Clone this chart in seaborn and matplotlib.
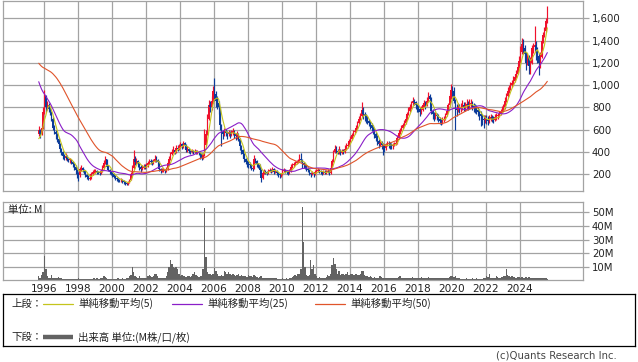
import numpy as np
import pandas as pd
import matplotlib
matplotlib.use("Agg")
import matplotlib.pyplot as plt
import seaborn as sns
from matplotlib.ticker import FuncFormatter

sns.set_theme(style="white")
plt.rcParams['font.family'] = ['Noto Sans CJK JP', 'DejaVu Sans']

# ---------------- data (monthly, Sep 1995 - Aug 2025) ----------------
START_YEAR, START_MONTH = 1995, 9

# closes before the visible range (Aug 1991 - Aug 1995), only feed the moving averages
PRE_CLOSE = [1300, 1280, 1250, 1220, 1200,
             1180, 1150, 1120, 1150, 1200, 1250, 1300, 1350, 1400, 1420, 1450, 1500,
             1540, 1560, 1580, 1600, 1560, 1520, 1500, 1480, 1450, 1400, 1380, 1350,
             1340, 1320, 1300, 1280, 1300, 1320, 1280, 1250, 1200, 1150, 1100, 1000,
             900, 750, 600, 500, 480, 460, 500, 560]

CLOSE = [
    600, 560, 620, 760,
    900, 800, 820, 790, 760, 700, 620, 580, 560, 520, 470, 430,
    400, 360, 350, 360, 340, 330, 330, 310, 290, 270, 240, 200,
    190, 250, 260, 240, 230, 190, 180, 160, 170, 200, 220, 230,
    230, 220, 215, 210, 230, 260, 300, 340, 270, 240, 220, 210,
    200, 180, 170, 160, 150, 145, 150, 140, 130, 120, 110, 125,
    150, 200, 260, 340, 310, 320, 290, 270, 250, 260, 270, 265,
    280, 300, 320, 310, 300, 320, 340, 330, 310, 250, 230, 240,
    240, 230, 250, 300, 340, 380, 400, 420, 400, 440, 430, 450,
    470, 450, 480, 460, 420, 430, 410, 400, 410, 400, 410, 400,
    400, 390, 380, 350, 370, 460, 560, 700, 820, 800, 860, 950,
    920, 860, 840, 800, 640, 580, 560, 590, 570, 560, 580, 560,
    570, 590, 560, 540, 560, 520, 450, 420, 380, 340, 310, 300,
    290, 280, 260, 250, 340, 320, 290, 280, 240, 170, 210, 230,
    220, 210, 230, 240, 230, 250, 220, 230, 210, 200, 190, 195,
    230, 240, 230, 220, 210, 230, 270, 280, 290, 300, 310, 320,
    340, 330, 300, 280, 270, 250, 240, 210, 200, 210, 200, 220,
    230, 240, 230, 220, 210, 220, 215, 220, 230, 210, 260, 320,
    400, 430, 410, 400, 420, 390, 410, 400, 430, 450, 460, 500,
    520, 550, 580, 590, 620, 660, 700, 720, 780, 740, 720, 700,
    680, 660, 640, 620, 600, 560, 530, 500, 470, 480, 460, 450,
    440, 460, 480, 470, 460, 450, 460, 470, 480, 530, 570, 600,
    620, 640, 660, 700, 740, 770, 800, 840, 860, 850, 820, 800,
    790, 760, 780, 820, 840, 820, 860, 900, 880, 770, 740, 720,
    730, 720, 700, 680, 670, 690, 700, 730, 770, 820, 900, 960,
    950, 860, 790, 780, 800, 790, 800, 820, 800, 810, 830, 820,
    830, 840, 810, 800, 790, 780, 760, 740, 720, 700, 690, 700,
    690, 680, 700, 710, 700, 690, 710, 720, 720, 740, 760, 780,
    800, 860, 900, 950, 970, 1000, 1020, 1040, 1070, 1100, 1160, 1220,
    1300, 1370, 1330, 1280, 1200, 1250, 1170, 1200, 1330, 1340, 1360, 1300,
    1260, 1200, 1250, 1400, 1450, 1490, 1580, 1650,
]

HIGH = [
    630, 610, 650, 800,
    960, 910, 860, 840, 800, 770, 710, 640, 600, 570, 530, 480,
    440, 410, 380, 390, 370, 350, 350, 340, 320, 300, 280, 250,
    220, 270, 280, 270, 250, 240, 200, 190, 190, 220, 240, 250,
    250, 240, 230, 230, 250, 280, 330, 360, 340, 280, 250, 230,
    220, 210, 190, 180, 170, 160, 165, 160, 150, 140, 130, 140,
    160, 220, 280, 420, 360, 350, 330, 300, 280, 280, 290, 290,
    300, 320, 340, 340, 330, 340, 375, 360, 340, 320, 260, 260,
    260, 250, 270, 320, 360, 400, 430, 450, 430, 460, 460, 470,
    490, 480, 495, 490, 470, 450, 440, 420, 430, 420, 430, 420,
    420, 410, 400, 390, 390, 610, 600, 740, 870, 860, 900, 990,
    1060, 950, 900, 860, 800, 650, 600, 620, 610, 590, 600, 590,
    600, 620, 600, 570, 590, 570, 530, 460, 430, 390, 350, 330,
    320, 310, 290, 280, 370, 350, 330, 300, 290, 250, 230, 250,
    240, 230, 250, 260, 250, 270, 260, 250, 240, 220, 210, 210,
    250, 260, 250, 240, 230, 250, 290, 300, 310, 320, 330, 340,
    380, 390, 340, 310, 290, 280, 260, 250, 220, 230, 220, 240,
    250, 260, 250, 240, 230, 240, 235, 240, 250, 240, 280, 340,
    420, 460, 450, 430, 450, 430, 430, 430, 460, 480, 490, 520,
    540, 570, 600, 610, 640, 680, 720, 750, 850, 800, 760, 740,
    720, 700, 680, 660, 640, 620, 580, 550, 520, 500, 500, 480,
    470, 480, 500, 500, 490, 480, 480, 490, 500, 550, 590, 620,
    640, 660, 690, 720, 760, 800, 830, 860, 890, 880, 860, 830,
    820, 800, 810, 840, 870, 860, 890, 940, 920, 890, 790, 760,
    760, 750, 740, 710, 700, 710, 720, 750, 790, 840, 920, 1010,
    990, 980, 880, 830, 840, 830, 840, 870, 850, 850, 880, 860,
    880, 880, 860, 840, 830, 820, 800, 790, 770, 740, 730, 730,
    730, 720, 730, 740, 730, 720, 740, 750, 750, 770, 790, 810,
    830, 890, 930, 980, 1000, 1030, 1050, 1080, 1100, 1140, 1200, 1260,
    1350, 1420, 1410, 1360, 1300, 1290, 1270, 1250, 1360, 1380, 1530, 1400,
    1340, 1290, 1300, 1420, 1480, 1520, 1600, 1710,
]

LOW = [
    540, 530, 550, 610,
    740, 760, 780, 760, 730, 680, 600, 560, 520, 490, 450, 400,
    370, 340, 330, 330, 320, 310, 300, 290, 270, 240, 200, 170,
    140, 180, 230, 220, 200, 180, 160, 150, 150, 160, 190, 210,
    210, 200, 200, 190, 200, 220, 250, 290, 250, 230, 200, 190,
    180, 170, 150, 140, 130, 130, 135, 125, 115, 105, 100, 105,
    120, 145, 190, 250, 280, 290, 270, 240, 220, 240, 250, 250,
    255, 270, 290, 290, 280, 290, 310, 310, 260, 230, 210, 220,
    220, 210, 220, 240, 290, 330, 370, 390, 380, 390, 410, 420,
    440, 430, 440, 430, 400, 400, 390, 380, 390, 380, 390, 380,
    380, 370, 340, 330, 340, 360, 450, 550, 690, 760, 780, 840,
    860, 800, 790, 740, 600, 450, 520, 540, 540, 520, 540, 530,
    540, 550, 530, 510, 520, 500, 420, 380, 350, 310, 290, 270,
    260, 260, 240, 230, 250, 300, 270, 260, 200, 130, 160, 200,
    200, 190, 200, 220, 210, 220, 200, 210, 190, 180, 170, 175,
    190, 220, 210, 200, 195, 200, 225, 260, 270, 280, 290, 300,
    310, 310, 260, 260, 250, 230, 220, 190, 180, 190, 180, 195,
    210, 220, 210, 200, 190, 200, 200, 200, 210, 195, 205, 255,
    310, 390, 390, 380, 380, 370, 380, 380, 390, 420, 440, 450,
    490, 510, 540, 560, 580, 610, 650, 690, 710, 700, 680, 660,
    650, 630, 610, 590, 560, 530, 500, 460, 440, 450, 430, 370,
    400, 420, 450, 440, 430, 430, 430, 450, 460, 470, 520, 560,
    590, 610, 630, 650, 690, 730, 760, 790, 820, 820, 790, 760,
    760, 720, 740, 770, 800, 790, 810, 850, 840, 740, 700, 680,
    700, 690, 670, 650, 640, 650, 670, 690, 720, 760, 810, 880,
    900, 840, 600, 720, 760, 750, 760, 780, 770, 770, 790, 780,
    790, 800, 780, 760, 750, 740, 720, 690, 630, 640, 620, 660,
    650, 640, 660, 680, 670, 660, 680, 690, 700, 710, 730, 750,
    770, 790, 850, 890, 930, 960, 980, 1000, 1030, 1060, 1100, 1150,
    1200, 1280, 1280, 1220, 1140, 1180, 1100, 1100, 1190, 1290, 1300, 1230,
    1200, 1090, 1150, 1240, 1380, 1430, 1480, 1560,
]

VOLUME_M = [
    3, 2, 4, 6,
    18, 8, 3, 2, 2, 4, 2, 2, 1.5, 2, 2.5, 2,
    1.5, 1, 1, 1, 1, 1.2, 1, 1, 0.8, 1, 0.8, 1,
    1.5, 1, 0.8, 0.8, 0.6, 0.6, 0.8, 1, 0.8, 1, 1.2, 1.5,
    1, 1.5, 1.2, 1, 1.5, 2, 3, 2.5, 1.5, 1, 1, 1,
    1, 1.2, 1, 1, 1.5, 1, 1.2, 1.5, 1, 1, 1.5, 2,
    3, 4, 9.5, 6, 3, 2.5, 2, 3, 2, 1.5, 1.5, 2,
    2, 3, 4, 3.5, 2.5, 3, 5, 4.5, 3, 2, 2, 1.5,
    2, 1.5, 3, 6, 10, 15, 12, 10, 9, 10, 8, 5,
    3, 4, 3, 3.5, 2.5, 3, 3, 2.5, 3, 5, 6, 4,
    3, 2.5, 3, 3, 8, 53, 17, 6, 5, 5, 4, 5,
    9, 7, 5, 3, 3, 4, 3, 7, 6, 5, 6, 5,
    4, 5, 4, 3, 4, 4.5, 3.5, 4, 3, 3.5, 3, 2.5,
    4, 3, 3, 2.5, 4, 3, 2.5, 2, 2.5, 3, 2, 2,
    2, 1.5, 2, 2, 1.5, 2, 1.5, 1.5, 1.5, 1.2, 1, 1,
    1.5, 1, 1.2, 1.5, 1, 1.5, 2, 2.5, 3, 4, 3.5, 5,
    4.5, 8, 54, 28, 10, 4, 3, 4, 15, 8, 11, 5,
    3, 2, 2.5, 2, 1.5, 2, 2, 2.5, 4, 3, 5, 11.5,
    16.5, 12, 8, 5, 6.5, 4, 4.5, 5, 4, 5, 6, 4,
    5, 4.5, 4, 4, 4.5, 4, 4, 5, 6.5, 6.5, 4, 3,
    3, 2.5, 3, 2.5, 2, 2.5, 2, 2, 2, 3, 2.5, 2,
    2, 1.5, 2, 1.5, 1.5, 2, 1.5, 2, 1.5, 2, 2.5, 3,
    1.5, 2, 1.5, 2, 2, 1.5, 2, 2, 2.5, 2, 1.5, 2,
    1.5, 2, 2.5, 1.5, 1.5, 2, 2, 2.5, 2, 2, 1.5, 2,
    2, 1.5, 1.5, 1.5, 2, 1.5, 1.5, 2, 2, 1.5, 2.5, 3,
    3, 2.5, 3.5, 2, 1.5, 1.5, 1, 1, 1, 1, 1.5, 1,
    1, 1, 1.5, 1, 1, 1.5, 1, 1.2, 1, 1, 1.5, 1.5,
    3, 2.5, 5, 2, 2, 1.5, 2, 3, 2.5, 2, 2, 2.5,
    3, 3, 8, 4, 3, 2.5, 3, 2.5, 2.5, 2, 2.5, 2.5,
    2, 2.5, 2, 2, 2.5, 1.5, 2.5, 2, 1.5, 2, 2, 1.5,
    2, 2, 1.5, 2, 1.5, 1.5, 2, 1,
]

MA_WINDOWS = [5, 25, 50]
MA_LABELS = ["単純移動平均(5)", "単純移動平均(25)", "単純移動平均(50)"]
YEAR_TICKS = list(range(1996, 2025, 2))
PRICE_TICKS = [200, 400, 600, 800, 1000, 1200, 1400, 1600]
VOL_TICKS = [10, 20, 30, 40, 50]

# ---------------- styles ----------------
UP, DOWN = "#f0102c", "#0c3c9a"
MA_COLORS = ["#c4c41c", "#8a1ec8", "#e0542a"]
GRID = "#a3a3a3"
VOLC = "#636363"
NUMFONT = ["DejaVu Sans"]

# ---------------- frame ----------------
n = len(CLOSE)
dates = pd.date_range(f"{START_YEAR}-{START_MONTH:02d}-01", periods=n, freq="MS")
xpos = dates.year + (dates.month - 1) / 12 + 1 / 24
df = pd.DataFrame({"x": xpos, "close": CLOSE, "high": HIGH, "low": LOW, "vol": VOLUME_M})
df["open"] = [PRE_CLOSE[-1]] + CLOSE[:-1]
full = pd.Series(PRE_CLOSE + CLOSE, dtype=float)
for w in MA_WINDOWS:
    df[f"ma{w}"] = full.rolling(w).mean().iloc[len(PRE_CLOSE):].to_numpy()

W, H = 638, 362
fig = plt.figure(figsize=(W / 100, H / 100), dpi=100)
XL = (1993.624, 2027.724)

def frac(x0, y0, x1, y1):
    return [x0 / W, 1 - y1 / H, (x1 - x0) / W, (y1 - y0) / H]

# ---- price panel ----
ax = fig.add_axes(frac(3.3, 0.7, 583, 190.7))
ax.set_xlim(*XL)
ax.set_ylim(53, 1758)
ax.set_xticks(YEAR_TICKS)
ax.set_yticks(PRICE_TICKS)
ax.grid(True, color=GRID, lw=0.9)
ax.set_axisbelow(True)
for s in ax.spines.values():
    s.set_color(GRID); s.set_linewidth(0.9)
ax.yaxis.tick_right()
ax.tick_params(axis="y", length=4, color=GRID, width=0.9, labelsize=7.3, pad=2.5, labelcolor="#222222")
ax.tick_params(axis="x", length=0, labelbottom=False)
ax.yaxis.set_major_formatter(FuncFormatter(lambda v, p: f"{int(v):,}"))
for lab in ax.get_yticklabels():
    lab.set_family(NUMFONT)

up = df["close"] >= df["open"]
cols = np.where(up, UP, DOWN)
ax.vlines(df["x"], df["low"], df["high"], colors=cols, lw=0.85, zorder=2)
body_lo = np.minimum(df["open"], df["close"])
body_h = np.maximum(np.abs(df["close"] - df["open"]), 8)
ax.bar(df["x"], body_h, bottom=body_lo, width=0.078, color=cols, lw=0, zorder=2)

for w, c in zip(MA_WINDOWS, MA_COLORS):
    sns.lineplot(data=df, x="x", y=f"ma{w}", ax=ax, color=c, lw=0.8, zorder=3, legend=False)
ax.set_xlabel(""); ax.set_ylabel("")

# ---- volume panel ----
av = fig.add_axes(frac(3.3, 201.7, 583, 280.3))
av.set_xlim(*XL)
av.set_ylim(0, 57.8)
av.set_xticks(YEAR_TICKS)
av.set_yticks(VOL_TICKS)
av.grid(True, color=GRID, lw=0.9)
av.set_axisbelow(True)
for s in av.spines.values():
    s.set_color(GRID); s.set_linewidth(0.9)
av.yaxis.tick_right()
av.tick_params(axis="y", length=4, color=GRID, width=0.9, labelsize=7.3, pad=2.5, labelcolor="#222222")
av.tick_params(axis="x", length=0, labelsize=7.6, pad=2.5, labelcolor="#222222")
av.yaxis.set_major_formatter(FuncFormatter(lambda v, p: f"{int(v)}M"))
for lab in av.get_yticklabels() + av.get_xticklabels():
    lab.set_family(NUMFONT)
av.bar(df["x"], df["vol"], width=1 / 12, color=VOLC, lw=0, zorder=2)
av.set_xlabel(""); av.set_ylabel("")
fig.text(8 / W, 1 - 210 / H, "単位: M", fontsize=7.5, va="center", ha="left", color="#222222")

# ---- legend box ----
lg = fig.add_axes(frac(3, 294, 635, 346))
lg.set_xlim(0, 632); lg.set_ylim(52, 0)
lg.set_xticks([]); lg.set_yticks([])
lg.set_facecolor("white")
for s in lg.spines.values():
    s.set_color("black"); s.set_linewidth(0.9)
y1, y2 = 9.5, 43
lg.text(8, y1, "上段：", fontsize=7.5, va="center", color="#222222")
line_x = [(40, 70), (169, 199), (312, 342)]
for (a, b), c, t in zip(line_x, MA_COLORS, MA_LABELS):
    lg.plot([a, b], [y1, y1], color=c, lw=0.9)
    lg.text(b + 5, y1, t, fontsize=7.5, va="center", color="#222222")
lg.text(8, y2, "下段：", fontsize=7.5, va="center", color="#222222")
lg.plot([40, 70], [y2, y2], color=VOLC, lw=3.2, solid_capstyle="butt")
lg.text(75, y2, "出来高 単位:(M株/口/枚)", fontsize=7.5, va="center", color="#222222")

fig.text(617 / W, 1 - 355 / H, "(c)Quants Research Inc.", fontsize=7.3, ha="right",
         va="center", color="#444444", family=NUMFONT)

fig.savefig("out.png", dpi=100)
